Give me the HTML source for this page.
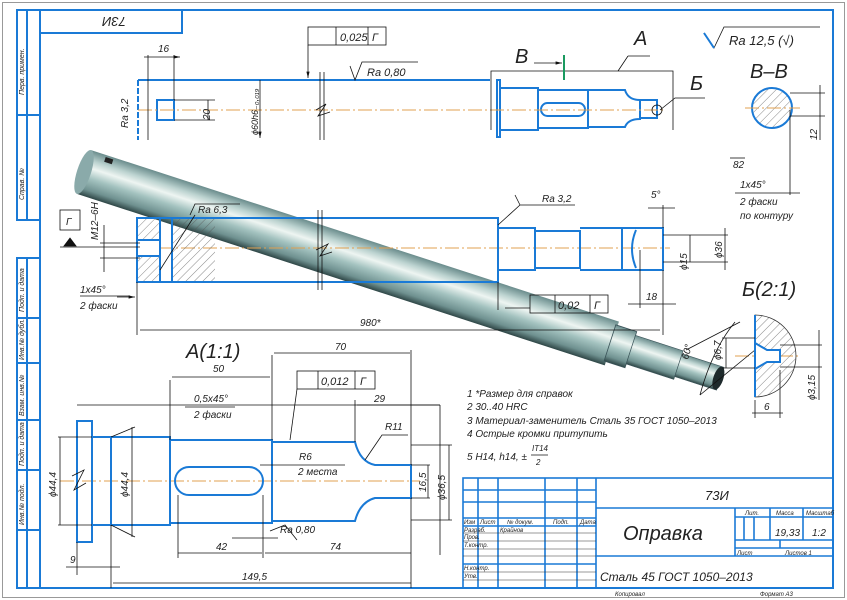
<!DOCTYPE html>
<html><head><meta charset="utf-8"><style>
html,body{margin:0;padding:0;background:#fff;width:847px;height:600px;overflow:hidden}
svg{display:block}
text{font-family:"Liberation Sans","DejaVu Sans",sans-serif;font-style:italic;fill:#222}
</style></head><body>
<svg width="847" height="600" viewBox="0 0 847 600" xmlns="http://www.w3.org/2000/svg">
<defs>
<linearGradient id="rg" x1="0" y1="0" x2="0" y2="1">
<stop offset="0" stop-color="#6a8c8c"/><stop offset="0.22" stop-color="#bcd3d0"/><stop offset="0.38" stop-color="#eef5f2"/><stop offset="0.6" stop-color="#a3c2bf"/><stop offset="0.85" stop-color="#6f9190"/><stop offset="1" stop-color="#2e4646"/>
</linearGradient>
<pattern id="hat" width="6" height="6" patternUnits="userSpaceOnUse" patternTransform="rotate(45)"><line x1="0" y1="0" x2="0" y2="6" stroke="#555" stroke-width="0.7"/></pattern>
<marker id="ar" markerWidth="8" markerHeight="6" refX="8" refY="3" orient="auto"><path d="M0,1 L8,3 L0,5z" fill="#111"/></marker>
</defs>
<rect x="2.5" y="2.5" width="842" height="595" fill="none" stroke="#999" stroke-width="1"/>
<g fill="none" stroke="#1a7ad6" stroke-width="2">
<rect x="40" y="10" width="793" height="578"/>
<rect x="40" y="10" width="142" height="23"/>
<rect x="17" y="10" width="23" height="210"/><line x1="27" y1="10" x2="27" y2="220"/><line x1="17" y1="115" x2="40" y2="115"/>
<rect x="17" y="258" width="23" height="330"/><line x1="27" y1="258" x2="27" y2="588"/>
<line x1="17" y1="318" x2="40" y2="318"/><line x1="17" y1="363" x2="40" y2="363"/><line x1="17" y1="420" x2="40" y2="420"/><line x1="17" y1="470" x2="40" y2="470"/><line x1="17" y1="530" x2="40" y2="530"/>
</g>
<g font-size="7">
<text transform="translate(24,95) rotate(-90)">Перв. примен.</text>
<text transform="translate(24,200) rotate(-90)">Справ. №</text>
<text transform="translate(24,312) rotate(-90)">Подп. и дата</text>
<text transform="translate(24,360) rotate(-90)">Инв.№ дубл.</text>
<text transform="translate(24,416) rotate(-90)">Взам. инв.№</text>
<text transform="translate(24,466) rotate(-90)">Подп. и дата</text>
<text transform="translate(24,525) rotate(-90)">Инв.№ подл.</text>
</g>
<text x="100" y="27" font-size="13" transform="rotate(180 113 22)">73И</text>

<g transform="translate(84,172) rotate(18)">
<rect x="0" y="-23" width="555" height="46" fill="url(#rg)"/>
<rect x="553" y="-19" width="22" height="38" fill="url(#rg)" stroke="#3a5358" stroke-width="0.8"/>
<rect x="575" y="-15" width="50" height="30" fill="url(#rg)" stroke="#3a5358" stroke-width="0.6"/>
<rect x="625" y="-12" width="44" height="24" fill="url(#rg)" stroke="#3a5358" stroke-width="0.6"/>
<ellipse cx="667" cy="0" rx="5" ry="12" fill="#1e2a2c"/>
<ellipse cx="0" cy="0" rx="7" ry="23" fill="#8aaaaa"/>
<rect x="16" y="-21" width="8" height="5" fill="#222"/>
</g>

<g fill="none" stroke="#1a7ad6" stroke-width="2">
<line x1="138" y1="80" x2="490" y2="80"/>
<line x1="138" y1="80" x2="138" y2="140" stroke-dasharray="6 2"/>
<rect x="157" y="100" width="17" height="20"/>
<rect x="497" y="80" width="3" height="57"/>
<path d="M500,88 H538 V130 H500"/>
<path d="M538,90 H588 V128 H538"/>
<path d="M588,90 H625 Q628,100 640,100 V119 Q628,119 625,127 H588"/>
<rect x="640" y="100" width="17" height="18"/>
<rect x="541" y="103" width="44" height="13" rx="6.5"/>
</g>
<circle cx="772" cy="108" r="20" fill="url(#hat)" stroke="#1a7ad6" stroke-width="2"/>
<g stroke="#e0a050" stroke-width="1" stroke-dasharray="14 3 2 3"><line x1="138" y1="110" x2="665" y2="110"/><line x1="745" y1="108" x2="800" y2="108"/><line x1="137" y1="248" x2="670" y2="248"/><line x1="60" y1="481" x2="420" y2="481"/><line x1="735" y1="356" x2="800" y2="356"/></g>
<g fill="none" stroke="#111" stroke-width="0.8">
<line x1="148" y1="55" x2="148" y2="140"/><line x1="174" y1="55" x2="174" y2="100"/><line x1="144" y1="57" x2="180" y2="57" marker-end="url(#ar)"/>
<line x1="174" y1="100" x2="215" y2="100"/><line x1="174" y1="120" x2="215" y2="120"/><line x1="208" y1="100" x2="208" y2="120"/>
<line x1="260" y1="80" x2="260" y2="138" marker-end="url(#ar)"/>
<line x1="320" y1="72" x2="320" y2="140"/><line x1="324" y1="72" x2="324" y2="140"/><path d="M316,110 L326,104 L318,116 L330,112"/>
<rect x="308" y="27" width="78" height="18"/><line x1="336" y1="27" x2="336" y2="45"/><line x1="368" y1="27" x2="368" y2="45"/>
<line x1="308" y1="45" x2="308" y2="78" marker-end="url(#ar)"/>
<path d="M350,66 L355,80 L362,62 H418"/>
<path d="M491,130 V71 H673 V130"/><line x1="618" y1="71" x2="628" y2="56"/><line x1="628" y1="56" x2="650" y2="56"/>
<line x1="534" y1="63" x2="562" y2="63" marker-end="url(#ar)"/>
<path d="M660,110 L675,98 H705"/><circle cx="657" cy="110" r="5"/>
<path d="M704,33 L714,48 L724,27 H820"/>
<line x1="790" y1="110" x2="790" y2="195"/><line x1="790" y1="93" x2="825" y2="93"/><line x1="790" y1="116" x2="825" y2="116"/><line x1="820" y1="85" x2="820" y2="140"/>
<line x1="730" y1="158" x2="745" y2="158"/><line x1="735" y1="193" x2="800" y2="193"/>
</g>
<line x1="564" y1="55" x2="564" y2="80" stroke="#1a9a60" stroke-width="2"/>
<g font-size="10">
<text x="158" y="52">16</text><text transform="translate(210,120) rotate(-90)">20</text>
<text transform="translate(128,128) rotate(-90)">Ra 3,2</text>
<text transform="translate(258,135) rotate(-90)" font-size="9">ϕ60h6₋₀,₀₁₉</text>
<text x="340" y="41" font-size="11">0,025</text><text x="372" y="41" font-size="11">Г</text>
<text x="367" y="76" font-size="11">Ra 0,80</text>
<text x="729" y="45" font-size="13">Ra 12,5 (√)</text>
<text x="733" y="168">82</text><text x="740" y="188">1x45°</text><text x="740" y="205">2 фаски</text><text x="740" y="219">по контуру</text>
<text transform="translate(817,140) rotate(-90)">12</text>
</g>
<path d="M704,33 L714,48" stroke="#1a7ad6" stroke-width="2" fill="none"/>
<g font-size="20" style="font-style:normal"><text x="515" y="63">В</text><text x="634" y="45">А</text><text x="690" y="90">Б</text><text x="750" y="78">В–В</text><text x="742" y="296">Б(2:1)</text><text x="186" y="358">А(1:1)</text></g>

<rect x="137" y="218" width="23" height="64" fill="url(#hat)"/>
<rect x="172" y="218" width="43" height="64" fill="url(#hat)"/>
<rect x="137" y="240" width="23" height="16" fill="#fff"/>
<g fill="none" stroke="#1a7ad6" stroke-width="2">
<rect x="137" y="218" width="361" height="64"/>
<line x1="160" y1="218" x2="160" y2="282"/><line x1="172" y1="218" x2="172" y2="282"/>
<path d="M137,240 H160 M137,256 H160"/>
<path d="M498,228 H535 V270 H498"/><path d="M535,231 H580 V268 H535"/><path d="M580,228 H622 V270 H580"/>
<path d="M622,228 H663 V270 H622"/><path d="M636,230 Q628,249 636,268"/>
</g>
<g fill="none" stroke="#111" stroke-width="0.8">
<line x1="318" y1="210" x2="318" y2="290"/><line x1="322" y1="210" x2="322" y2="290"/><path d="M316,250 L328,244 L320,256 L332,252"/>
<path d="M498,225 L520,205 H575"/><path d="M520,205 L515,195"/>
<path d="M190,215 L195,204 H240"/><line x1="195" y1="215" x2="160" y2="270"/>
<rect x="60" y="210" width="20" height="20"/><path d="M64,246 L70,238 L76,246z" fill="#111"/>
<line x1="60" y1="247" x2="140" y2="247"/><line x1="100" y1="243" x2="140" y2="243"/><line x1="100" y1="258" x2="140" y2="258"/><line x1="104" y1="225" x2="104" y2="272"/>
<line x1="137" y1="282" x2="137" y2="335"/><line x1="80" y1="296" x2="130" y2="296"/><line x1="117" y1="297" x2="135" y2="297" marker-end="url(#ar)"/>
<line x1="140" y1="330" x2="660" y2="330"/><line x1="663" y1="270" x2="663" y2="335"/>
<line x1="498" y1="282" x2="498" y2="310"/><line x1="505" y1="308" x2="530" y2="308"/>
<rect x="530" y="295" width="78" height="18"/><line x1="555" y1="295" x2="555" y2="313"/><line x1="590" y1="295" x2="590" y2="313"/>
<line x1="640" y1="250" x2="640" y2="308"/><line x1="628" y1="304" x2="676" y2="304"/>
<line x1="663" y1="235" x2="728" y2="235"/><line x1="663" y1="262" x2="728" y2="262"/><line x1="725" y1="228" x2="725" y2="270"/><line x1="690" y1="235" x2="690" y2="262"/>
<line x1="663" y1="228" x2="663" y2="205"/><line x1="648" y1="208" x2="675" y2="208"/>
<path d="M735,322 Q712,350 700,395"/><line x1="686" y1="350" x2="740" y2="322"/><line x1="700" y1="395" x2="755" y2="350"/>
</g>
<g font-size="10">
<text transform="translate(98,240) rotate(-90)">M12–6H</text><text x="66" y="225">Г</text>
<text x="198" y="213">Ra 6,3</text><text x="542" y="202">Ra 3,2</text>
<text x="80" y="293">1x45°</text><text x="80" y="309">2 фаски</text>
<text x="360" y="326">980*</text>
<text x="558" y="309" font-size="11">0,02</text><text x="594" y="309" font-size="11">Г</text>
<text x="646" y="300">18</text><text x="651" y="198">5°</text>
<text transform="translate(722,258) rotate(-90)">ϕ36</text><text transform="translate(687,270) rotate(-90)">ϕ15</text>
<text transform="translate(688,360) rotate(-75)">60°</text>
</g>

<path d="M755,315 A41,41 0 0 1 755,397 Z" fill="url(#hat)" stroke="#333" stroke-width="0.8"/>
<path d="M755,343 L767,350 H780 V362 H767 L755,369" fill="#fff" stroke="#1a7ad6" stroke-width="2"/>
<line x1="755" y1="315" x2="755" y2="397" stroke="#1a7ad6" stroke-width="2"/>
<g fill="none" stroke="#111" stroke-width="0.8"><line x1="722" y1="338" x2="755" y2="338"/><line x1="722" y1="368" x2="755" y2="368"/><line x1="726" y1="338" x2="726" y2="368"/><line x1="780" y1="345" x2="822" y2="345"/><line x1="780" y1="367" x2="822" y2="367"/><line x1="819" y1="330" x2="819" y2="400"/><line x1="755" y1="400" x2="755" y2="418"/><line x1="780" y1="370" x2="780" y2="418"/><line x1="752" y1="413" x2="783" y2="413"/></g>
<g font-size="10"><text transform="translate(721,360) rotate(-90)">ϕ6,7</text><text transform="translate(815,400) rotate(-90)">ϕ3,15</text><text x="764" y="410">6</text></g>

<g fill="none" stroke="#1a7ad6" stroke-width="2">
<rect x="77" y="421" width="15" height="121"/>
<path d="M92,437 H170 V525 H92"/><line x1="111" y1="437" x2="111" y2="525"/>
<path d="M170,440 H272 V523 H170"/><path d="M272,442 H355 Q360,462 375,465 H411 V498 H375 Q360,502 355,521 H272"/>
<rect x="175" y="467" width="88" height="28" rx="14"/>
</g>
<g fill="none" stroke="#111" stroke-width="0.8">
<line x1="58" y1="437" x2="92" y2="437"/><line x1="58" y1="525" x2="92" y2="525"/><line x1="60" y1="437" x2="60" y2="525"/>
<line x1="111" y1="437" x2="135" y2="427"/><line x1="111" y1="525" x2="135" y2="537"/><line x1="132" y1="427" x2="132" y2="537"/>
<path d="M72,476 L84,470 L74,490 L86,483"/>
<line x1="77" y1="405" x2="440" y2="405"/><line x1="77" y1="542" x2="77" y2="575"/><line x1="440" y1="405" x2="440" y2="555"/>
<line x1="111" y1="525" x2="111" y2="588"/><line x1="113" y1="583" x2="411" y2="583"/><line x1="411" y1="498" x2="411" y2="588"/>
<line x1="66" y1="567" x2="120" y2="567"/>
<line x1="170" y1="380" x2="170" y2="440"/><line x1="272" y1="355" x2="272" y2="440"/><line x1="172" y1="377" x2="270" y2="377"/><line x1="274" y1="353" x2="410" y2="353"/><line x1="411" y1="350" x2="411" y2="465"/>
<line x1="355" y1="400" x2="355" y2="442"/><line x1="357" y1="405" x2="440" y2="405"/>
<rect x="297" y="371" width="78" height="18"/><line x1="318" y1="371" x2="318" y2="389"/><line x1="355" y1="371" x2="355" y2="389"/>
<line x1="297" y1="389" x2="290" y2="440"/>
<path d="M185,407 H235"/><path d="M260,465 L295,465 H345"/>
<path d="M365,460 L382,435 H408"/>
<path d="M270,531 L285,525 L297,540"/><line x1="278" y1="538" x2="232" y2="538"/>
<line x1="178" y1="553" x2="262" y2="553"/><line x1="265" y1="553" x2="411" y2="553"/><line x1="178" y1="495" x2="178" y2="558"/><line x1="263" y1="495" x2="263" y2="558"/>
<line x1="411" y1="465" x2="430" y2="465"/><line x1="411" y1="498" x2="430" y2="498"/><line x1="428" y1="465" x2="428" y2="498"/>
<line x1="411" y1="445" x2="452" y2="445"/><line x1="411" y1="520" x2="452" y2="520"/><line x1="449" y1="445" x2="449" y2="520"/>
</g>
<g font-size="10">
<text x="213" y="372">50</text><text x="335" y="350">70</text>
<text x="194" y="402">0,5x45°</text><text x="194" y="418">2 фаски</text>
<text x="321" y="385" font-size="11">0,012</text><text x="360" y="385" font-size="11">Г</text>
<text x="374" y="402">29</text><text x="385" y="430">R11</text>
<text x="299" y="460">R6</text><text x="298" y="475">2 места</text>
<text transform="translate(56,497) rotate(-90)">ϕ44,4</text><text transform="translate(128,497) rotate(-90)">ϕ44,4</text>
<text transform="translate(426,492) rotate(-90)">16,5</text><text transform="translate(445,500) rotate(-90)">ϕ36,5</text>
<text x="280" y="533">Ra 0,80</text><text x="216" y="550">42</text><text x="330" y="550">74</text>
<text x="70" y="563">9</text><text x="242" y="580">149,5</text>
</g>

<g font-size="10">
<text x="467" y="397">1 *Размер для справок</text>
<text x="467" y="410">2 30..40 HRC</text>
<text x="467" y="424">3 Материал-заменитель Сталь 35 ГОСТ 1050–2013</text>
<text x="467" y="437">4 Острые кромки притупить</text>
<text x="467" y="460">5 H14, h14, ±</text><text x="532" y="451" font-size="8">IT14</text><text x="536" y="465" font-size="8">2</text>
</g>
<line x1="531" y1="455" x2="548" y2="455" stroke="#111" stroke-width="0.7"/>

<g fill="none" stroke="#1a7ad6" stroke-width="1.6">
<rect x="463" y="478" width="370" height="110"/>
<line x1="478" y1="478" x2="478" y2="588"/><line x1="498" y1="478" x2="498" y2="588"/><line x1="545" y1="478" x2="545" y2="588"/><line x1="577" y1="478" x2="577" y2="588"/><line x1="596" y1="478" x2="596" y2="588"/>
<line x1="463" y1="490" x2="596" y2="490"/><line x1="463" y1="502" x2="596" y2="502"/><line x1="463" y1="518" x2="596" y2="518"/><line x1="463" y1="526" x2="596" y2="526"/><line x1="463" y1="564" x2="596" y2="564"/>
<line x1="596" y1="508" x2="833" y2="508"/><line x1="596" y1="556" x2="833" y2="556"/>
<line x1="735" y1="508" x2="735" y2="556"/><line x1="735" y1="517" x2="833" y2="517"/><line x1="735" y1="540" x2="833" y2="540"/>
<line x1="770" y1="508" x2="770" y2="540"/><line x1="803" y1="508" x2="803" y2="540"/><line x1="780" y1="540" x2="780" y2="548"/><line x1="735" y1="548" x2="833" y2="548"/>
<line x1="744" y1="517" x2="744" y2="540"/><line x1="754" y1="517" x2="754" y2="540"/>
</g>
<g stroke="#333" stroke-width="0.6"><line x1="463" y1="533" x2="596" y2="533"/><line x1="463" y1="541" x2="596" y2="541"/><line x1="463" y1="549" x2="596" y2="549"/><line x1="463" y1="556" x2="596" y2="556"/><line x1="463" y1="572" x2="596" y2="572"/><line x1="463" y1="580" x2="596" y2="580"/></g>
<g font-size="6">
<text x="464" y="524">Изм</text><text x="480" y="524">Лист</text><text x="507" y="524">№ докум.</text><text x="553" y="524">Подп.</text><text x="580" y="524">Дата</text>
<text x="464" y="532">Разраб.</text><text x="500" y="532">Крайнов</text><text x="464" y="539">Пров.</text><text x="464" y="547">Т.контр.</text>
<text x="464" y="570">Н.контр.</text><text x="464" y="578">Утв.</text>
<text x="745" y="515">Лит.</text><text x="776" y="515">Масса</text><text x="806" y="515">Масштаб</text>
<text x="737" y="555">Лист</text><text x="785" y="555">Листов   1</text>
<text x="615" y="596">Копировал</text><text x="760" y="596">Формат   А3</text>
</g>
<text x="705" y="500" font-size="13">73И</text>
<text x="623" y="540" font-size="20">Оправка</text>
<text x="600" y="581" font-size="12">Сталь 45  ГОСТ 1050–2013</text>
<text x="775" y="536" font-size="10">19,33</text><text x="812" y="536" font-size="10">1:2</text>
</svg>
</body></html>
